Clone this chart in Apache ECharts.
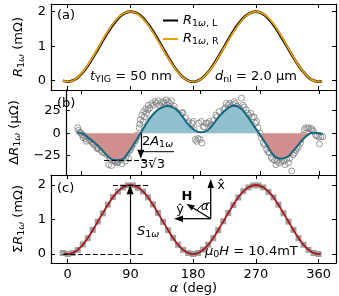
<!DOCTYPE html>
<html><head><meta charset="utf-8">
<script src="https://cdn.jsdelivr.net/npm/echarts@6/dist/echarts.min.js"></script>
<style>html,body{margin:0;padding:0;background:#fff}#c{width:339px;height:296px}</style>
</head><body><div id="c"></div><script>
// ---- data ----
const alphaTicks = [0, 90, 180, 270, 360];
const mTicks = [0, 1, 2];
const uTicks = [-25, 0, 25];
const lineAlpha = [-7,0,10,20,30,40,50,60,70,80,90,100,110,120,130,140,150,160,170,180,190,200,210,220,230,240,250,260,270,280,290,300,310,320,330,340,350,360,365];
const rL = [0.000,-0.030,0.028,0.204,0.471,0.797,1.145,1.475,1.749,1.934,2.000,1.946,1.771,1.504,1.175,0.824,0.490,0.215,0.032,-0.030,0.031,0.215,0.490,0.823,1.175,1.504,1.770,1.944,1.999,1.933,1.748,1.476,1.146,0.800,0.474,0.208,0.030,-0.030,-0.010];
const rR = [0.000,-0.030,0.032,0.216,0.489,0.823,1.175,1.505,1.771,1.946,2.000,1.934,1.749,1.476,1.145,0.796,0.470,0.205,0.028,-0.030,0.029,0.205,0.470,0.797,1.145,1.476,1.750,1.936,2.001,1.947,1.772,1.504,1.174,0.820,0.486,0.212,0.030,-0.030,-0.010];
const dRfit = [0.7,0,-5,-11,-18,-26,-30,-29.5,-22,-11,1,13,22.5,28,30.3,28,21,11,4,1,3,11,20,27,30.5,28,19.5,9,-2,-13,-24,-28.5,-27,-20,-11,-3.5,0.5,0,-1];
const dRpts = [[-6,6],[-5,3],[-3,1],[-1,0],[1,-2],[2,-5],[4,-3],[6,-6],[7,-9],[9,-4],[11,-8],[13,-7],[14,-7],[16,-11],[17,-10],[19,-13],[21,-14],[23,-17],[24,-16],[25,-17],[27,-7],[29,-19],[31,-21],
[33,-7],[34,-22],[36,-17],[38,-24],[40,-21],[41,-35],[42,-27],[44,-29],[45,-36],[47,-8],[48,-30],[50,-31],[51,-32],[52,-26],[54,-33],[55,-32],[57,-30],[59,-29],[61,-34],[62,-20],[64,-25],[66,-31],[67,-27],[69,-22],[71,-28],[72,-20],[74,-18],[76,-15],[78,-12],[80,-8],
[82,-8],[84,-2],[86,-3],[87,6],[88,10],[89,15],[91,20],[93,13],[94,24],[95,18],[97,27],[98,22],[100,26],[101,31],[103,28],[105,15],[106,33],[108,31],[110,18],[111,35],[113,33],[115,22],[116,36],[118,31],[119,24],[121,34],[123,29],[124,35],[126,33],[128,37],[129,31],[131,35],[133,33],[134,28],[136,36],[138,28],[140,30],[142,24],[144,24],[146,18],[148,15],[150,20],[152,22],[153,23],[155,11],[157,17],[160,11],[162,13],[165,5],[167,11],[169,13],[170,4],[172,-7],[174,-9],[176,-6],[177,11],[179,-7],[181,13],[182,-11],[184,7],[186,7],[188,11],[191,11],[193,13],[196,9],[198,9],[200,14],[203,20],[205,18],[208,24],[210,17],[213,15],[215,26],[217,28],[219,33],[222,31],[224,33],[226,29],[229,32],[231,35],[233,33],[235,30],[237,28],[239,28],[242,39],[244,31],[246,29],[249,26],[251,22],[253,20],[256,22],[258,18],[261,18],[263,11],[265,13],[267,6],[270,0],[272,-5],[275,-11],[277,-13],[280,-18],[282,-21],[284,-22],[287,-27],[289,-29],[292,-30],[294,-35],[296,-31],[299,-33],[301,-28],[303,-31],[306,-31],[308,-35],[310,-29],[313,-33],[315,-28],[318,-42],[318,-7],[320,-24],[322,-22],[324,-19],[326,-17],[328,-15],[328,-9],[331,-11],[332,-7],[335,-2],[337,4],[339,6],[342,5],[344,6],[347,5],[349,4],[351,2],[354,-2],[356,-3],[359,-4],[360,-12],[362,-4],[365,-4]];
const sqAlpha = [-7.2,0,7.2,14.4,21.6,28.8,36,43.2,50.4,57.6,64.8,72,79.2,86.4,93.6,100.8,108,115.2,122.4,129.6,136.8,144,151.2,158.4,165.6,172.8,180,187.2,194.4,201.6,208.8,216,223.2,230.4,237.6,244.8,252,259.2,266.4,273.6,280.8,288,295.2,302.4,309.6,316.8,324,331.2,338.4,345.6,352.8,360];
const sqVal = [0.03,0.00,0.03,0.12,0.28,0.46,0.70,0.94,1.18,1.43,1.65,1.81,1.93,1.99,1.99,1.92,1.81,1.64,1.44,1.19,0.93,0.69,0.47,0.27,0.12,0.03,0.00,0.03,0.13,0.27,0.46,0.69,0.95,1.19,1.42,1.64,1.82,1.93,1.99,1.99,1.93,1.80,1.64,1.43,1.18,0.94,0.70,0.46,0.27,0.12,0.03,0.00];
const sumAlpha = [-5,0,10,20,30,40,50,60,70,80,90,100,110,120,130,140,150,160,170,180,190,200,210,220,230,240,250,260,270,280,290,300,310,320,330,340,350,360,363];
const sumFit = [0.02,0.00,0.06,0.23,0.50,0.83,1.17,1.50,1.77,1.94,2.00,1.94,1.77,1.50,1.17,0.83,0.50,0.23,0.06,0.00,0.06,0.23,0.50,0.83,1.17,1.50,1.77,1.94,2.00,1.94,1.77,1.50,1.17,0.83,0.50,0.23,0.06,0.00,0.01];

// ---- chart ----
const FONT = 'DejaVu Sans';
const FS = 13, SS = 9.5;
const rich = {
  i: {fontStyle:'italic', fontSize:FS, fontFamily:FONT, color:'#000'},
  n: {fontSize:FS, fontFamily:FONT, color:'#000'},
  s: {fontSize:SS, fontFamily:FONT, color:'#000', padding:[6,0,0,0]},
  si: {fontSize:SS, fontStyle:'italic', fontFamily:FONT, color:'#000', padding:[6,0,0,0]},
  b: {fontSize:FS, fontWeight:'bold', fontFamily:FONT, color:'#000'},
  sm: {fontSize:12, fontStyle:'italic', fontFamily:FONT, color:'#000'}
};
const zip = (a, b) => a.map((v, i) => [v, b[i]]);
const minus = v => String(v).replace('-', '\u2212');
const grids = [
  {left:51, top:4, width:285, height:86},
  {left:51, top:90, width:285, height:85},
  {left:51, top:175, width:285, height:88}
];
const axLine = {show:true, onZero:false, lineStyle:{color:'#000', width:1.2}};
function xAx(g, pos, labels) {
  const o = {type:'value', gridIndex:g, position:pos, min:-24, max:385,
    axisLine:axLine,
    axisTick:{show:true, inside:true, length:4, customValues:alphaTicks, lineStyle:{color:'#000', width:1}},
    axisLabel:{show:labels, customValues:alphaTicks, fontSize:FS, color:'#000', fontFamily:FONT, margin:5},
    splitLine:{show:false}};
  if (labels) {
    o.name = '{i|\u03b1}{n| (deg)}';
    o.nameLocation = 'middle';
    o.nameGap = 18;
    o.nameTextStyle = {rich};
  }
  return o;
}
function yAx(g, pos, min, max, ticks, name, gap) {
  const o = {type:'value', gridIndex:g, position:pos, min, max,
    axisLine:axLine,
    axisTick:{show:true, inside:true, length:4, customValues:ticks, lineStyle:{color:'#000', width:1}},
    axisLabel:{show:pos === 'left', customValues:ticks, fontSize:FS, color:'#000', fontFamily:FONT, margin:5, formatter:minus},
    splitLine:{show:false}};
  if (name) {
    o.name = name; o.nameLocation = 'middle'; o.nameRotate = 90; o.nameGap = gap;
    o.nameTextStyle = {rich};
  }
  return o;
}
const xAxis = [xAx(0,'bottom',false), xAx(0,'top',false), xAx(1,'bottom',false), xAx(1,'top',false), xAx(2,'bottom',true), xAx(2,'top',false)];
const yAxis = [
  yAx(0,'left',-0.27,2.22,mTicks,'{i|R}{s|1}{si|\u03c9}{n| (m\u03a9)}', 13), yAx(0,'right',-0.27,2.22,mTicks),
  yAx(1,'left',-46.5,48,uTicks,'{n|\u0394}{i|R}{s|1}{si|\u03c9}{n| (\u03bc\u03a9)}', 13), yAx(1,'right',-46.5,48,uTicks),
  yAx(2,'left',-0.26,2.29,mTicks,'{n|\u03a3}{i|R}{s|1}{si|\u03c9}{n| (m\u03a9)}', 13), yAx(2,'right',-0.26,2.29,mTicks)
];
const dash = {type:[5,2.5], color:'#000', width:1.2};
const solid = {type:'solid', color:'#000', width:1.2};
const series = [
  {name:'RL', type:'line', xAxisIndex:0, yAxisIndex:0, data:zip(lineAlpha, rL), smooth:true, showSymbol:false, lineStyle:{color:'#000', width:2.6}, itemStyle:{color:'#000'}},
  {name:'RR', type:'line', xAxisIndex:0, yAxisIndex:0, data:zip(lineAlpha, rR), smooth:true, showSymbol:false, lineStyle:{color:'#E69F00', width:1.8}, itemStyle:{color:'#E69F00'}},
  {name:'area', type:'line', xAxisIndex:2, yAxisIndex:2, data:zip(lineAlpha, dRfit), smooth:true, showSymbol:false, lineStyle:{width:0, opacity:0}, areaStyle:{opacity:1}},
  {name:'pts', type:'scatter', xAxisIndex:2, yAxisIndex:2, data:dRpts, symbol:'circle', symbolSize:6, itemStyle:{color:'rgba(0,0,0,0)', borderColor:'#808080', borderWidth:1}},
  {name:'fitb', type:'line', xAxisIndex:2, yAxisIndex:2, data:zip(lineAlpha, dRfit), smooth:true, showSymbol:false, lineStyle:{color:'#15677f', width:2},
   markLine:{silent:true, animation:false, symbol:['none','none'], label:{show:false},
     data:[
       [{coord:[34,-30], lineStyle:dash}, {coord:[108,-30]}],
       [{coord:[89.5,0], lineStyle:solid, symbol:'none'}, {coord:[89.5,-23.5], symbol:'triangle', symbolSize:[7,9]}]
     ]}},
  {name:'sq', type:'scatter', xAxisIndex:4, yAxisIndex:4, data:zip(sqAlpha, sqVal), symbol:'rect', symbolSize:6, itemStyle:{color:'#8a8a8a'}},
  {name:'fitc', type:'line', xAxisIndex:4, yAxisIndex:4, data:zip(sumAlpha, sumFit), smooth:true, showSymbol:false, lineStyle:{color:'#a8181c', width:1.8},
   markLine:{silent:true, animation:false, symbol:['none','none'], label:{show:false},
     data:[
       [{coord:[65,2], lineStyle:dash}, {coord:[118,2]}],
       [{coord:[-7,0], lineStyle:dash}, {coord:[108,0]}],
       [{coord:[89.5,0], lineStyle:solid, symbol:'none'}, {coord:[89.5,1.86], symbol:'triangle', symbolSize:[7,9]}]
     ]}}
];
function txt(x, y, text, align) {
  return {type:'text', x, y, z:100, style:{text, rich, align:align || 'left', verticalAlign:'middle', fontFamily:FONT, fontSize:FS, fill:'#000'}};
}
const O = [210.7, 218.7];
const graphic = [
  txt(57, 16, '{n|(a)}'), txt(57, 104, '{n|(b)}'), txt(57, 189, '{n|(c)}'),
  txt(90, 77, '{i|t}{s|YIG}{n| = 50 nm}'),
  txt(215, 77, '{i|d}{s|nl}{n| = 2.0 \u03bcm}'),
  txt(157.5, 142, '{n|2}{i|A}{s|1}{si|\u03c9}', 'center'),
  {type:'line', z:100, shape:{x1:141, y1:151.7, x2:174, y2:151.7}, style:{stroke:'#000', lineWidth:1}},
  txt(152.5, 165, '{n|3\u221a3}', 'center'),
  txt(137, 232, '{i|S}{s|1}{si|\u03c9}'),
  txt(205, 252, '{i|\u03bc}{s|0}{i|H}{n| = 10.4mT}'),
  {type:'line', z:100, shape:{x1:O[0], y1:O[1], x2:O[0], y2:187}, style:{stroke:'#000', lineWidth:1.3}},
  {type:'polygon', z:100, shape:{points:[[O[0],179],[O[0]-3.2,188],[O[0]+3.2,188]]}, style:{fill:'#000'}},
  {type:'line', z:100, shape:{x1:O[0], y1:O[1], x2:182, y2:O[1]}, style:{stroke:'#000', lineWidth:1.3}},
  {type:'polygon', z:100, shape:{points:[[174,O[1]],[183,O[1]-3.2],[183,O[1]+3.2]]}, style:{fill:'#000'}},
  {type:'line', z:100, shape:{x1:O[0], y1:O[1], x2:193.3, y2:208}, style:{stroke:'#000', lineWidth:1.3}},
  {type:'polygon', z:100, shape:{points:[[186.5,203.8],[194.9,205.4],[191.7,210.6]]}, style:{fill:'#000'}},
  {type:'arc', z:100, shape:{cx:O[0], cy:O[1], r:16, startAngle:-148*Math.PI/180, endAngle:-90*Math.PI/180, clockwise:true}, style:{stroke:'#000', fill:null, lineWidth:1}},
  txt(187, 197, '{b|H}', 'center'),
  txt(221, 186, '{n|x\u0302}', 'center'),
  txt(180, 210, '{n|y\u0302}', 'center'),
  txt(205, 207, '{sm|\u03b1}', 'center')
];
const chart = echarts.init(document.getElementById('c'), null, {renderer:'canvas'});
chart.setOption({
  animation:false,
  textStyle:{fontFamily:FONT},
  grid:grids, xAxis, yAxis, series, graphic,
  legend:{data:['RL','RR'], left:163, top:14, padding:0, orient:'vertical', itemGap:4, itemWidth:15, itemHeight:2, icon:'rect', selectedMode:false,
    formatter:n => n === 'RL' ? '{i|R}{s|1}{si|\u03c9}{s|, L}' : '{i|R}{s|1}{si|\u03c9}{s|, R}',
    textStyle:{rich, fontSize:FS, fontFamily:FONT}},
  visualMap:{type:'piecewise', show:false, seriesIndex:2, dimension:1,
    pieces:[{gte:-1000, lt:0, color:'#d08e8e'}, {gte:0, lte:1000, color:'#90bfcd'}]}
});
</script></body></html>
